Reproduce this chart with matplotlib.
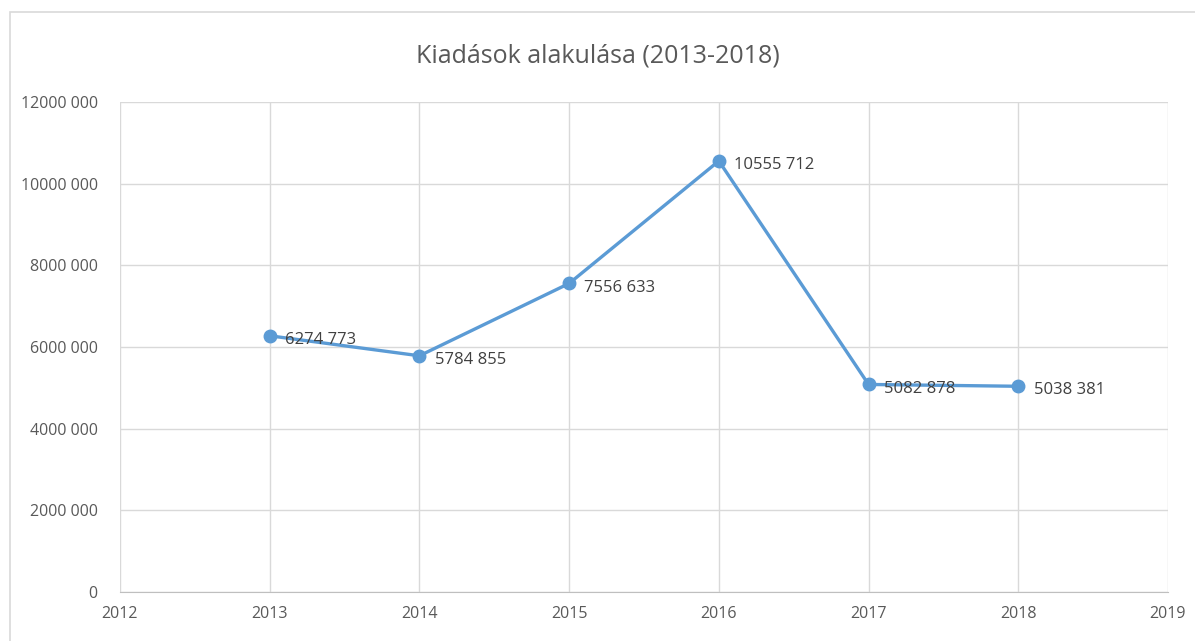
import matplotlib.pyplot as plt
from matplotlib.ticker import FuncFormatter, MultipleLocator
from matplotlib.patches import Rectangle

years = [2013, 2014, 2015, 2016, 2017, 2018]
kiadasok = [6274773, 5784855, 7556633, 10555712, 5082878, 5038381]
title = "Kiadások alakulása (2013-2018)"

plt.rcParams['font.family'] = ['Open Sans', 'DejaVu Sans']
szurke = '#595959'
kek = '#5B9BD5'


def fmt(v, pos=None):
    v = int(round(v))
    if v < 1000:
        return str(v)
    return "%d %03d" % (v // 1000, v % 1000)


fig = plt.figure(figsize=(11.95, 6.41), dpi=100)
# keret
fig.patches.append(Rectangle((10 / 1195, -0.1), 1.2, 1 - 12 / 641 + 0.1,
                             transform=fig.transFigure, fill=False,
                             edgecolor='#D9D9D9', linewidth=1.2))
ax = fig.add_axes([0.1004, 0.0764, 0.8770, 0.7645])

ax.plot(years, kiadasok, color=kek, linewidth=2.4, marker='o', markersize=9,
        zorder=3)
for x, y in zip(years, kiadasok):
    ax.annotate(fmt(y), (x, y), xytext=(11, -3), textcoords='offset points',
                ha='left', va='center', fontsize=12, color='#404040')

ax.set_xlim(2012, 2019)
ax.set_ylim(0, 12000000)
ax.xaxis.set_major_locator(MultipleLocator(1))
ax.yaxis.set_major_locator(MultipleLocator(2000000))
ax.yaxis.set_major_formatter(FuncFormatter(fmt))
ax.xaxis.set_major_formatter(FuncFormatter(lambda v, p: str(int(v))))
ax.grid(True, color='#D9D9D9', linewidth=1)
ax.set_axisbelow(True)
for s in ['top', 'right', 'left']:
    ax.spines[s].set_visible(False)
ax.spines['bottom'].set_color('#BFBFBF')
ax.tick_params(length=0, labelsize=11.5, colors=szurke)
ax.tick_params(axis='y', pad=16)
ax.tick_params(axis='x', pad=10)

fig.text(0.5, 1 - 56 / 641, title, ha='center', va='center', fontsize=18,
         color=szurke)

fig.savefig('out.png', dpi=100)
